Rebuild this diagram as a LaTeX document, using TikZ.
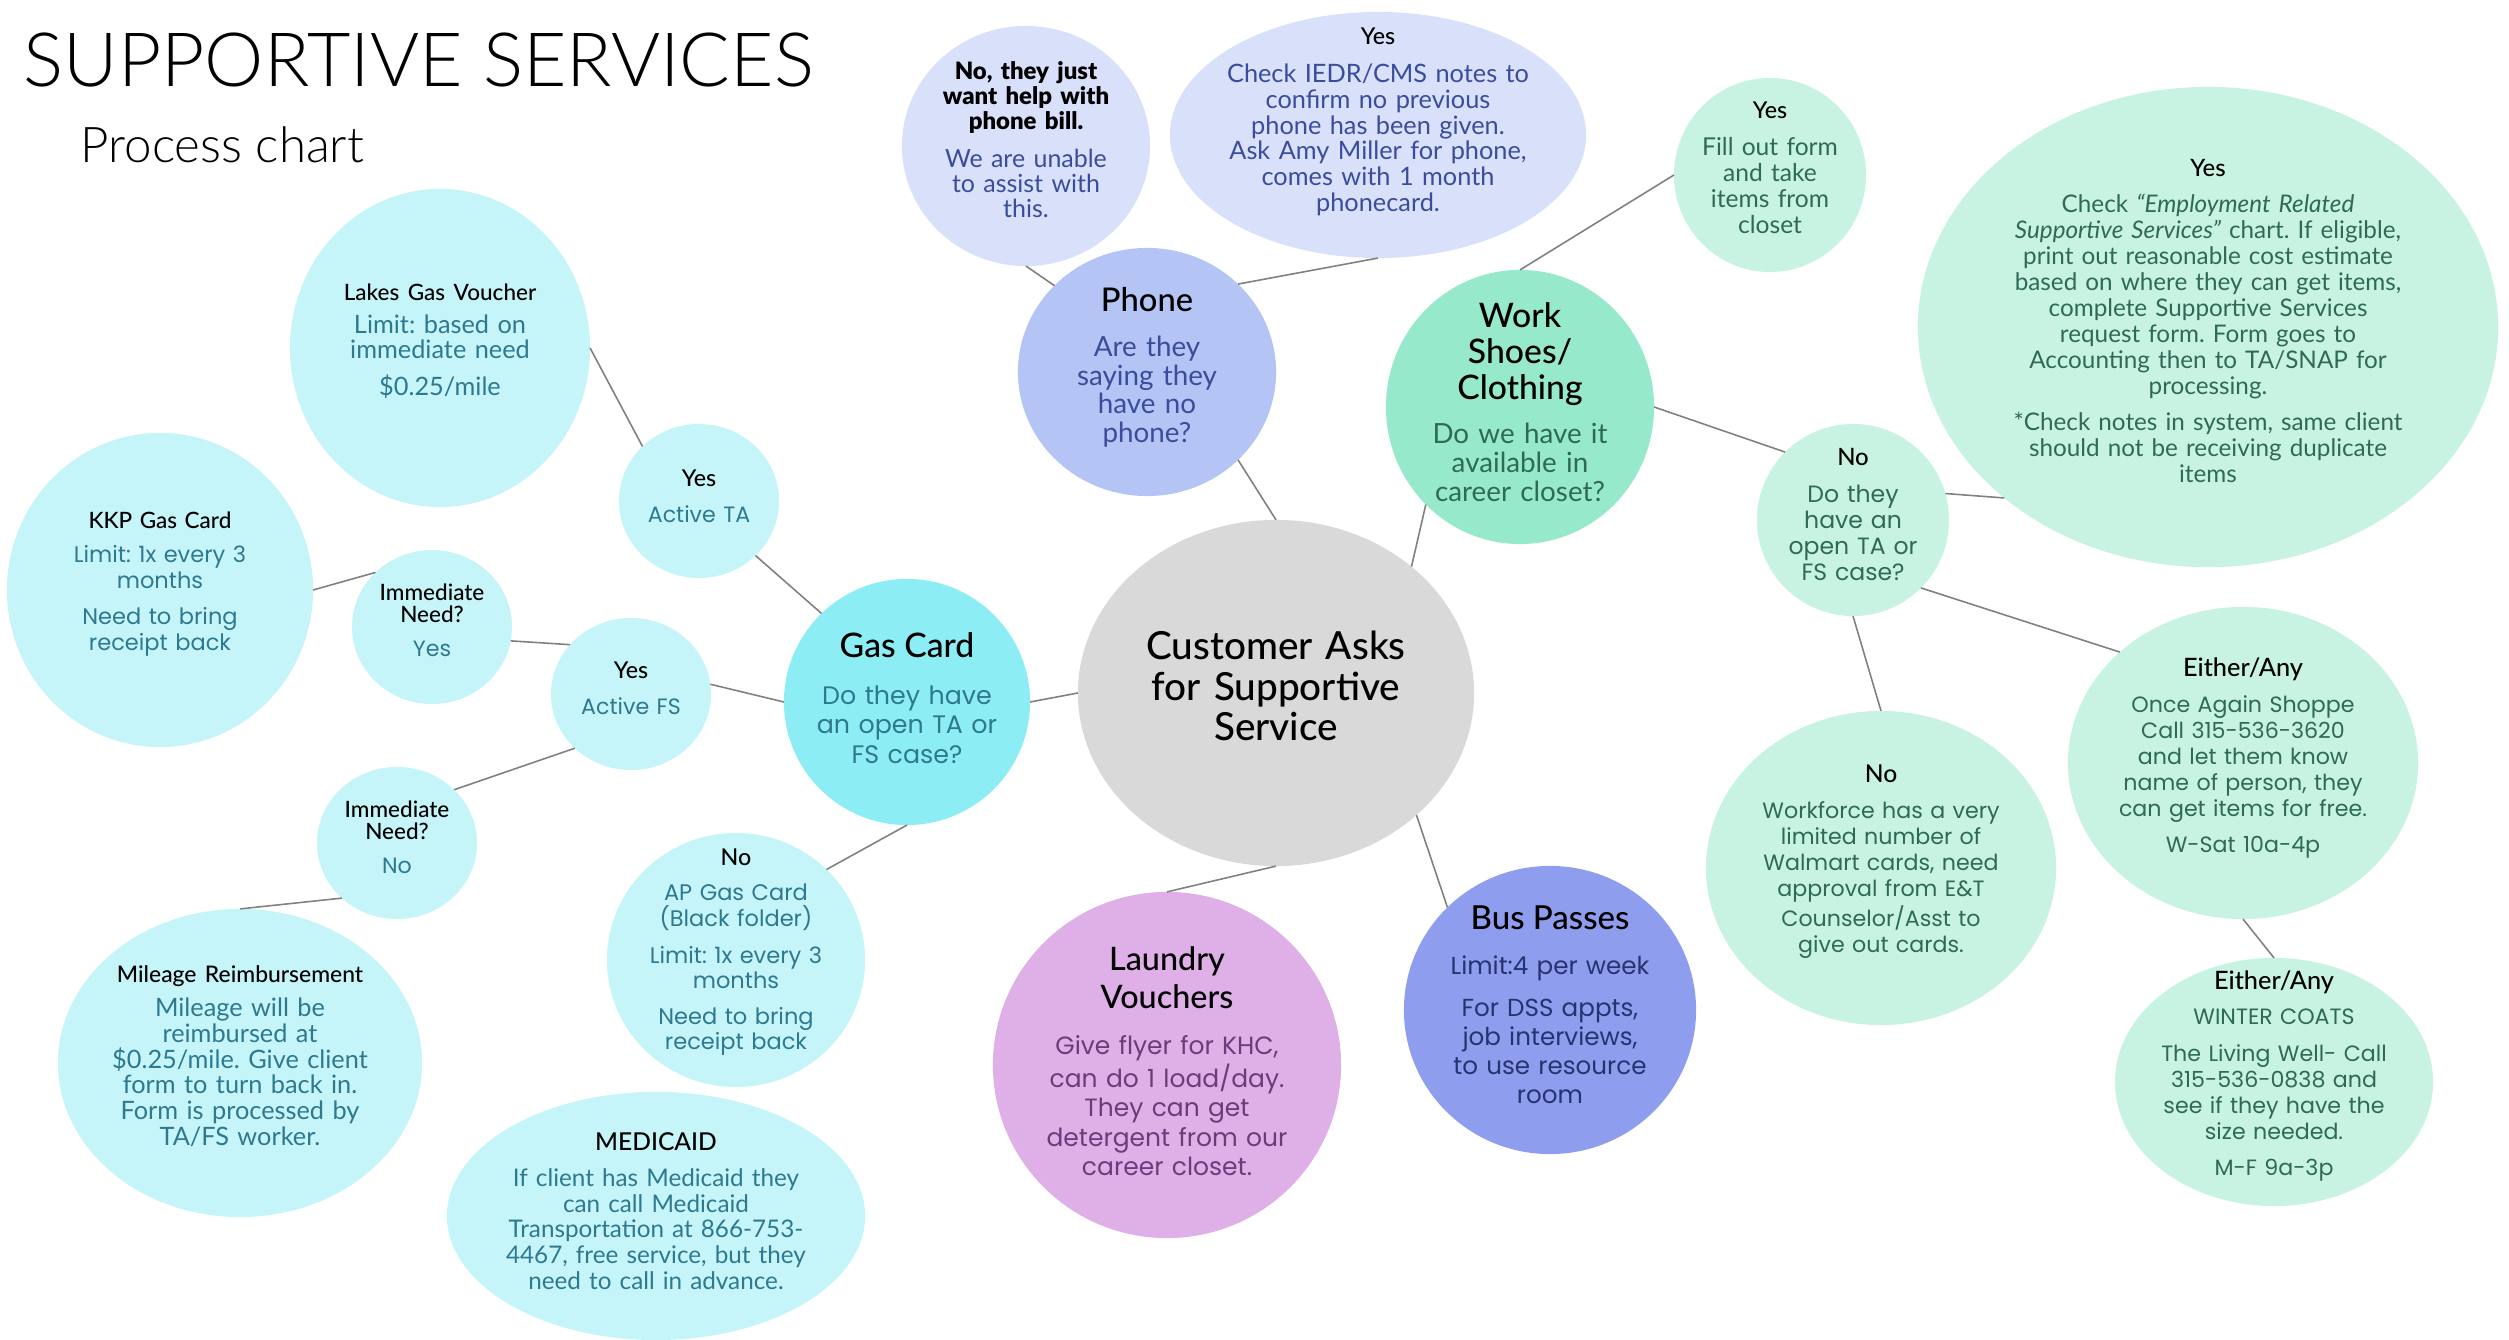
\documentclass[tikz,border=0pt]{standalone}
\usepackage{fontspec}
\setmainfont{Lato}
\newfontfamily\widefont{Poppins}
\newfontfamily\thinfont{Lato Light}
\newfontfamily\medfont{Lato Medium}
\usetikzlibrary{shapes.geometric}
\frenchspacing

\definecolor{gaslight}{HTML}{C5F5F9}
\definecolor{gasmain}{HTML}{8DEDF5}
\definecolor{gastext}{HTML}{2E7890}
\definecolor{phonelight}{HTML}{D9E0FA}
\definecolor{phonemain}{HTML}{B4C4F4}
\definecolor{phonetext}{HTML}{3A4C9C}
\definecolor{shoelight}{HTML}{C8F3E2}
\definecolor{shoemain}{HTML}{97E9CB}
\definecolor{shoetext}{HTML}{2E6A56}
\definecolor{custgray}{HTML}{D9D9D9}
\definecolor{laundryfill}{HTML}{DFB0E7}
\definecolor{laundrytext}{HTML}{6B3C7B}
\definecolor{busfill}{HTML}{8E9DEE}
\definecolor{bustext}{HTML}{27336F}
\definecolor{linkgray}{HTML}{808080}

% body fonts: size, leading
\newcommand\cond[2]{\fontsize{#1}{#2}\selectfont}
\newcommand\wide[2]{\widefont\fontsize{#1}{#2}\selectfont}
% black heading line inside a bubble
\newcommand\hdr[2][6.6]{{\medfont\color{black}\fontsize{#1}{#1}\selectfont #2}}

\tikzset{
  bubble/.style={ellipse, inner sep=0pt, outer sep=0pt},
  words/.style={align=center, inner sep=0pt},
  link/.style={draw=linkgray, line width=0.45pt},
}

\begin{document}
\begin{tikzpicture}[x=0.01cm, y=-0.01cm]
\useasboundingbox (0,0) rectangle (2509,1340);

\node[anchor=base west, inner sep=0pt, font=\thinfont\fontsize{21.3}{24}\selectfont] (title) at (23,87) {SUPPORTIVE SERVICES};
\node[anchor=base west, inner sep=0pt, font=\thinfont\fontsize{14}{15}\selectfont] (subtitle) at (80,163) {Process chart};

% gas card branch
\node[bubble, fill=gaslight, minimum width=3.00cm, minimum height=3.18cm] (lakes) at (440,348) {};
\node[words, text=gastext, text width=3.00cm, font=\cond{7.2}{7.1}] (lakes-t) at (440,341)
  {\hdr[6.4]{Lakes Gas Voucher}\\[2.3pt] Limit: based on\\immediate need\\[3.4pt] \$0.25/mile};
\node[bubble, fill=gaslight, minimum width=3.06cm, minimum height=3.14cm] (kkp) at (160,590) {};
\node[words, text=gastext, text width=3.06cm, font=\wide{6.4}{7.4}] (kkp-t) at (160,584)
  {\hdr[6.4]{KKP Gas Card}\\[2.3pt] Limit: 1x every 3\\months\\[2.8pt] Need to bring\\receipt back};
\node[bubble, fill=gaslight, minimum width=1.60cm, minimum height=1.54cm] (ta) at (699,501) {};
\node[words, text=gastext, text width=1.60cm, font=\wide{6.3}{7.4}] (ta-t) at (699,496)
  {\hdr{Yes}\\[2.8pt] Active TA};
\node[bubble, fill=gaslight, minimum width=1.60cm, minimum height=1.54cm] (immyes) at (432,627) {};
\node[words, text=gastext, text width=1.60cm, font=\wide{6.3}{6.3}] (immyes-t) at (432,620)
  {\hdr[6.4]{Immediate}\\\hdr[6.4]{Need?}\\[3.4pt] Yes};
\node[bubble, fill=gaslight, minimum width=1.60cm, minimum height=1.52cm] (fs) at (631,694) {};
\node[words, text=gastext, text width=1.60cm, font=\wide{6.3}{7.4}] (fs-t) at (631,688)
  {\hdr{Yes}\\[2.8pt] Active FS};
\node[bubble, fill=gasmain, minimum width=2.46cm, minimum height=2.46cm] (gas) at (907,702) {};
\node[words, text=gastext, text width=2.46cm, font=\wide{7.2}{8.3}] (gas-t) at (907,698)
  {\hdr[9.6]{Gas Card}\\[5.1pt] Do they have\\an open TA or\\FS case?};
\node[bubble, fill=gaslight, minimum width=1.60cm, minimum height=1.52cm] (immno) at (397,843) {};
\node[words, text=gastext, text width=1.60cm, font=\wide{6.3}{6.3}] (immno-t) at (397,837)
  {\hdr[6.4]{Immediate}\\\hdr[6.4]{Need?}\\[3.4pt] No};
\node[bubble, fill=gaslight, minimum width=3.64cm, minimum height=3.08cm] (mileage) at (240,1063) {};
\node[words, text=gastext, text width=3.64cm, font=\cond{7.2}{7.3}] (mileage-t) at (240,1056)
  {\hdr[6.5]{Mileage Reimbursement}\\[2.4pt] Mileage will be\\reimbursed at\\\$0.25/mile. Give client\\form to turn back in.\\Form is processed by\\TA/FS worker.};
\node[bubble, fill=gaslight, minimum width=2.58cm, minimum height=2.54cm] (ap) at (736,960) {};
\node[words, text=gastext, text width=2.58cm, font=\wide{6.4}{7.2}] (ap-t) at (736,952)
  {\hdr{No}\\[3pt] AP Gas Card\\(Black folder)\\[3.3pt] Limit: 1x every 3\\months\\[3pt] Need to bring\\receipt back};
\node[bubble, fill=gaslight, minimum width=4.18cm, minimum height=2.48cm] (medicaid) at (656,1216) {};
\node[words, text=gastext, text width=4.18cm, font=\cond{6.9}{7.3}] (medicaid-t) at (656,1211)
  {\hdr[7]{MEDICAID}\\[2.9pt] If client has Medicaid they\\can call Medicaid\\Transportation at 866-753-\\4467, free service, but they\\need to call in advance.};

% phone branch
\node[bubble, fill=phonelight, minimum width=2.48cm, minimum height=2.40cm] (phoneno) at (1026,146) {};
\node[words, text=phonetext, text width=2.48cm, font=\cond{7.1}{7.1}] (phoneno-t) at (1026,140)
  {\hdr[6.8]{\bfseries No, they just}\\\hdr[6.8]{\bfseries want help with}\\\hdr[6.8]{\bfseries phone bill.}\\[3.7pt] We are unable\\to assist with\\this.};
\node[bubble, fill=phonelight, minimum width=4.16cm, minimum height=2.46cm] (phoneyes) at (1378,135) {};
\node[words, text=phonetext, text width=4.16cm, font=\cond{7.2}{7.3}] (phoneyes-t) at (1378,122)
  {\hdr{Yes}\\[3.5pt] Check IEDR/CMS notes to\\confirm no previous\\phone has been given.\\Ask Amy Miller for phone,\\comes with 1 month\\phonecard.};
\node[bubble, fill=phonemain, minimum width=2.58cm, minimum height=2.48cm] (phone) at (1147,372) {};
\node[words, text=phonetext, text width=2.58cm, font=\cond{7.9}{8.1}] (phone-t) at (1147,367)
  {\hdr[9.3]{Phone}\\[4.9pt] Are they\\saying they\\have no\\phone?};

% centre
\node[bubble, fill=custgray, minimum width=3.96cm, minimum height=3.46cm] (customer) at (1276,693) {};
\node[words, text width=3.96cm, font=\medfont\cond{11}{11.5}] (customer-t) at (1276,686)
  {Customer Asks\\for Supportive\\Service};

% clothing branch
\node[bubble, fill=shoemain, minimum width=2.68cm, minimum height=2.74cm] (shoes) at (1520,407) {};
\node[words, text=shoetext, text width=2.68cm, font=\cond{7.9}{8.3}] (shoes-t) at (1520,402)
  {\hdr[9.6]{Work}\\[1.9pt]\hdr[9.6]{Shoes/}\\[1.9pt]\hdr[9.6]{Clothing}\\[4.2pt] Do we have it\\available in\\career closet?};
\node[bubble, fill=shoelight, minimum width=1.92cm, minimum height=1.94cm] (fill) at (1770,175) {};
\node[words, text=shoetext, text width=1.92cm, font=\cond{7}{7.4}] (fill-t) at (1770,168)
  {\hdr{Yes}\\[3.1pt] Fill out form\\and take\\items from\\closet};
\node[bubble, fill=shoelight, minimum width=5.80cm, minimum height=4.80cm] (bigyes) at (2208,327) {};
\node[words, text=shoetext, text width=5.80cm, font=\cond{6.9}{7.4}] (bigyes-t) at (2208,321)
  {\hdr[6.8]{Yes}\\[2.8pt] Check {\itshape “Employment Related}\\{\itshape Supportive Services”} chart. If eligible,\\print out reasonable cost estimate\\based on where they can get items,\\complete Supportive Services\\request form. Form goes to\\Accounting then to TA/SNAP for\\processing.\\[2.6pt] *Check notes in system, same client\\should not be receiving duplicate\\items};
\node[bubble, fill=shoelight, minimum width=1.92cm, minimum height=1.92cm] (noopen) at (1853,520) {};
\node[words, text=shoetext, text width=1.92cm, font=\wide{6.7}{7.4}] (noopen-t) at (1853,515)
  {\hdr[6.8]{No}\\[3.1pt] Do they\\have an\\open TA or\\FS case?};
\node[bubble, fill=shoelight, minimum width=3.50cm, minimum height=3.14cm] (workforce) at (1881,868) {};
\node[words, text=shoetext, text width=3.50cm, font=\wide{6.3}{7.4}] (workforce-t) at (1881,862)
  {\hdr[7]{No}\\[2.8pt] Workforce has a very\\limited number of\\Walmart cards, need\\approval from E\&T\\Counselor/Asst to\\give out cards.};
\node[bubble, fill=shoelight, minimum width=3.50cm, minimum height=3.12cm] (either1) at (2243,763) {};
\node[words, text=shoetext, text width=3.50cm, font=\wide{6.3}{7.4}] (either1-t) at (2243,758)
  {\hdr[7.2]{Either/Any}\\[2.8pt] Once Again Shoppe\\Call 315-536-3620\\and let them know\\name of person, they\\can get items for free.\\[2.8pt] W-Sat 10a-4p};
\node[bubble, fill=shoelight, minimum width=3.18cm, minimum height=2.48cm] (either2) at (2274,1082) {};
\node[words, text=shoetext, text width=3.18cm, font=\wide{6.3}{7.4}] (either2-t) at (2274,1076)
  {\hdr[7.2]{Either/Any}\\[2.8pt] WINTER COATS\\[3.1pt] The Living Well- Call\\315-536-0838 and\\see if they have the\\size needed.\\[2.8pt] M-F 9a-3p};

% laundry and bus
\node[bubble, fill=laundryfill, minimum width=3.48cm, minimum height=3.46cm] (laundry) at (1167,1065) {};
\node[words, text=laundrytext, text width=3.48cm, font=\wide{7.1}{8.3}] (laundry-t) at (1167,1061)
  {\hdr[9.2]{Laundry}\\[1.4pt]\hdr[9.2]{Vouchers}\\[4.8pt] Give flyer for KHC,\\can do 1 load/day.\\They can get\\detergent from our\\career closet.};
\node[bubble, fill=busfill, minimum width=2.92cm, minimum height=2.88cm] (bus) at (1550,1010) {};
\node[words, text=bustext, text width=2.92cm, font=\wide{7}{8.3}] (bus-t) at (1550,1005)
  {\hdr[9.4]{Bus Passes}\\[4.5pt] Limit:4 per week\\[3.4pt] For DSS appts,\\job interviews,\\to use resource\\room};

% connectors
\draw[link] (lakes.0) -- (ta.136);
\draw[link] (ta.-44) -- (gas.134);
\draw[link] (kkp.0) -- (immyes.136);
\draw[link] (immyes.-10) -- (fs.141);
\draw[link] (fs.7) -- (gas.180);
\draw[link] (fs.224) -- (immno.43);
\draw[link] (immno.225) -- (mileage.90);
\draw[link] (gas.270) -- (ap.45);
\draw[link] (gas.0) -- (customer.180);
\draw[link] (phone.-44) -- (customer.90);
\draw[link] (phoneno.270) -- (phone.137);
\draw[link] (phoneyes.270) -- (phone.44);
\draw[link] (customer.43) -- (shoes.226);
\draw[link] (shoes.90) -- (fill.180);
\draw[link] (shoes.0) -- (noopen.135);
\draw[link] (noopen.16) -- (bigyes.220);
\draw[link] (noopen.-45) -- (either1.138);
\draw[link] (noopen.270) -- (workforce.90);
\draw[link] (either1.270) -- (either2.90);
\draw[link] (customer.-41) -- (bus.135);
\draw[link] (customer.270) -- (laundry.90);
\end{tikzpicture}
\end{document}
